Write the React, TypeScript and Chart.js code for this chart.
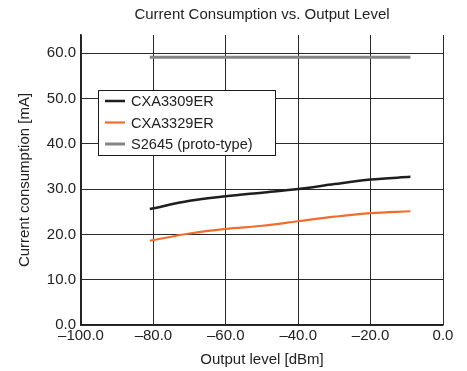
import React, { useEffect, useRef } from "react";
import { Chart, registerables } from "chart.js";
Chart.register(...registerables);

const seriesNames = ["CXA3309ER", "CXA3329ER", "S2645 (proto-type)"];
const outputLevel = [-81, -70, -60, -50, -40, -30, -20, -9];
const cxa3309 = [25.6, 27.4, 28.4, 29.2, 30.0, 31.1, 32.1, 32.7];
const cxa3329 = [18.6, 20.2, 21.2, 21.9, 22.9, 23.9, 24.7, 25.1];
const s2645 = [59.1, 59.1, 59.1, 59.1, 59.1, 59.1, 59.1, 59.1];
const colors = ["#1e1e1e", "#f26c2c", "#858585"];
const widths = [2.5, 2.2, 3];

const FONT = "'Liberation Sans', Arial, sans-serif";

const fmt = (v: number) => (v < 0 ? "\u2013" + Math.abs(v).toFixed(1) : v.toFixed(1));

const legendPlugin = {
  id: "innerLegend",
  afterDraw(chart: any) {
    const { ctx, chartArea } = chart;
    const x0 = chartArea.left + 17;
    const y0 = chartArea.top + 55;
    const w = 177;
    const h = 65;
    ctx.save();
    ctx.fillStyle = "#ffffff";
    ctx.fillRect(x0, y0, w, h);
    ctx.strokeStyle = "#1a1a1a";
    ctx.lineWidth = 1;
    ctx.strokeRect(x0 + 0.5, y0 + 0.5, w, h);
    ctx.font = `14.6px ${FONT}`;
    ctx.textBaseline = "middle";
    chart.data.datasets.forEach((ds: any, i: number) => {
      const cy = y0 + 11 + i * 21.5;
      ctx.strokeStyle = ds.borderColor;
      ctx.lineWidth = ds.borderWidth;
      ctx.beginPath();
      ctx.moveTo(x0 + 7, cy);
      ctx.lineTo(x0 + 27, cy);
      ctx.stroke();
      ctx.fillStyle = "#222";
      ctx.fillText(ds.label, x0 + 33, cy + 1);
    });
    ctx.restore();
  },
};

export default function App() {
  const ref = useRef<HTMLCanvasElement>(null);
  useEffect(() => {
    const values = [cxa3309, cxa3329, s2645];
    const chart = new Chart(ref.current!, {
      type: "line",
      data: {
        datasets: seriesNames.map((name, i) => ({
          label: name,
          data: outputLevel.map((x, j) => ({ x, y: values[i][j] })),
          borderColor: colors[i],
          backgroundColor: colors[i],
          borderWidth: widths[i],
          pointRadius: 0,
          cubicInterpolationMode: "monotone" as const,
        })),
      },
      options: {
        animation: false,
        responsive: false,
        layout: { padding: { top: 0, right: 24, left: 0, bottom: 0 } },
        plugins: {
          legend: { display: false },
          tooltip: { enabled: false },
          title: {
            display: true,
            fullSize: false,
            text: "Current Consumption vs. Output Level",
            color: "#222",
            font: { family: FONT, size: 15, weight: "normal" },
            padding: { top: 6, bottom: 11 },
          },
        },
        scales: {
          x: {
            type: "linear",
            min: -100,
            max: 0,
            afterFit: (s: any) => {
              s.height = 46;
            },
            ticks: {
              stepSize: 20,
              color: "#222",
              font: { family: FONT, size: 15 },
              padding: 2,
              maxRotation: 0,
              callback: (v: any) => fmt(Number(v)),
            },
            grid: { color: "#2a2a2a", lineWidth: 1, drawTicks: false },
            border: { color: "#222", width: 1.5 },
            title: {
              display: true,
              text: "Output level [dBm]",
              color: "#222",
              font: { family: FONT, size: 15 },
              padding: { top: 0, bottom: 2 },
            },
          },
          y: {
            type: "linear",
            min: 0,
            max: 64,
            afterFit: (s: any) => {
              s.width = 81;
            },
            afterBuildTicks: (s: any) => {
              s.ticks = s.ticks.filter((t: any) => Math.abs(t.value % 10) < 1e-6);
            },
            ticks: {
              stepSize: 10,
              color: "#222",
              font: { family: FONT, size: 15 },
              padding: 5,
              callback: (v: any) => fmt(Number(v)),
            },
            grid: { color: "#2a2a2a", lineWidth: 1, drawTicks: false },
            border: { color: "#222", width: 1.5 },
            title: {
              display: true,
              text: "Current consumption [mA]",
              color: "#222",
              font: { family: FONT, size: 15 },
              padding: { top: 16, bottom: 0 },
            },
          },
        },
      },
      plugins: [legendPlugin],
    });
    return () => chart.destroy();
  }, []);
  return (
    <div style={{ position: "fixed", left: 0, top: 0, width: 467, height: 371, background: "#fff" }}>
      <canvas ref={ref} width={467} height={371} style={{ width: 467, height: 371 }} />
    </div>
  );
}
